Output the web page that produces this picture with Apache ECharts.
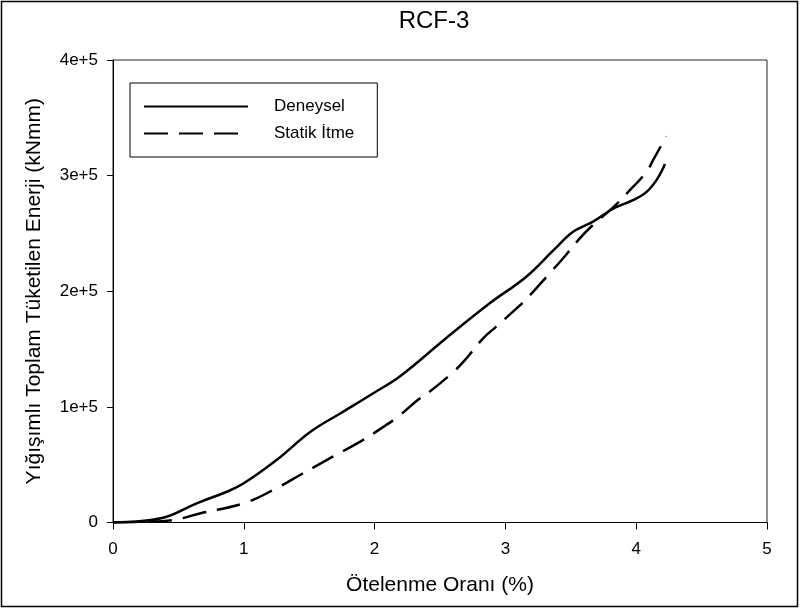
<!DOCTYPE html>
<html>
<head>
<meta charset="utf-8">
<script src="https://cdn.jsdelivr.net/npm/echarts@6/dist/echarts.min.js"></script>
<style>
  html, body { margin: 0; padding: 0; background: #fff; }
  #chart { width: 800px; height: 610px; }
</style>
</head>
<body>
<div id="chart"></div>
<script>
// Cumulative dissipated energy vs. drift ratio, specimen RCF-3
const seriesNames = ['Deneysel', 'Statik İtme'];

// Experimental curve: drift ratio (%) and cumulative energy (kNmm)
const deneyselDrift = [0, 0.2, 0.41, 0.64, 0.87, 1.0, 1.25, 1.51, 1.74, 1.99, 2.2, 2.53, 2.88, 3.16, 3.37, 3.52, 3.67, 3.83, 3.98, 4.08, 4.16, 4.22];
const deneyselEnergy = [0, 1000, 5000, 16600, 26600, 33900, 54000, 78500, 94500, 111800, 127000, 157900, 189600, 212600, 235700, 251600, 260200, 271800, 279000, 286000, 297000, 310000];

// Static pushover curve
const statikDrift = [0, 0.2, 0.46, 0.67, 1.0, 1.25, 1.43, 1.68, 1.89, 2.07, 2.19, 2.33, 2.42, 2.59, 2.68, 2.83, 2.93, 3.10, 3.19, 3.35, 3.43, 3.57, 3.67, 3.83, 3.93, 4.08, 4.13, 4.23];
const statikEnergy = [0, 500, 2200, 8000, 16600, 29600, 41100, 56900, 69900, 82900, 92500, 106000, 113100, 129000, 139100, 159300, 169400, 186700, 196800, 217000, 227000, 245900, 257400, 273200, 284800, 303500, 313600, 334000];

const xTicks = [0, 1, 2, 3, 4, 5];
const yTicks = [0, 100000, 200000, 300000, 400000];

const FONT = '"Liberation Sans", Arial, sans-serif';

function pairs(xs, ys) {
  return xs.map((x, i) => [x, ys[i]]);
}

function yLabel(v) {
  if (v === 0) return '0';
  return (v / 100000) + 'e+5';
}

const chart = echarts.init(document.getElementById('chart'), null, { renderer: 'canvas' });

chart.setOption({
  backgroundColor: '#fff',
  animation: false,
  textStyle: { fontFamily: FONT, color: '#000' },
  title: {
    text: 'RCF-3',
    left: 434,
    top: 9,
    textAlign: 'center',
    padding: 0,
    textStyle: { fontFamily: FONT, fontSize: 24, fontWeight: 'normal', color: '#000' }
  },
  graphic: [{
    type: 'rect',
    shape: { x: 1.5, y: 1.5, width: 796, height: 605 },
    style: { fill: null, stroke: '#000', lineWidth: 1.5 },
    silent: true,
    z: 100
  }],
  legend: {
    orient: 'vertical',
    left: 130,
    top: 83,
    padding: [15, 23, 15, 13],
    itemGap: 10,
    itemWidth: 104,
    itemHeight: 14,
    borderColor: '#000',
    borderWidth: 1,
    data: seriesNames,
    itemStyle: { opacity: 0 },
    textStyle: { fontFamily: FONT, fontSize: 17, color: '#000', padding: [0, 0, 0, 21] }
  },
  grid: {
    left: 113,
    right: 33,
    top: 60,
    bottom: 87.5,
    show: true,
    borderColor: '#222',
    borderWidth: 1,
    backgroundColor: 'transparent'
  },
  xAxis: {
    type: 'value',
    min: xTicks[0],
    max: xTicks[xTicks.length - 1],
    interval: 1,
    name: 'Ötelenme Oranı (%)',
    nameLocation: 'middle',
    nameGap: 52,
    nameTextStyle: { fontFamily: FONT, fontSize: 21, color: '#000' },
    axisLine: { lineStyle: { color: '#000', width: 1 } },
    axisTick: { inside: false, length: 7, lineStyle: { color: '#000' } },
    axisLabel: { fontFamily: FONT, fontSize: 17, color: '#000', margin: 18 },
    splitLine: { show: false }
  },
  yAxis: {
    type: 'value',
    min: yTicks[0],
    max: yTicks[yTicks.length - 1],
    interval: 100000,
    name: 'Yığışımlı Toplam Tüketilen Enerji (kNmm)',
    nameLocation: 'middle',
    nameGap: 68,
    nameTextStyle: { fontFamily: FONT, fontSize: 21, color: '#000' },
    axisLine: { show: true, lineStyle: { color: '#000', width: 1 } },
    axisTick: { show: true, inside: false, length: 6, lineStyle: { color: '#000' } },
    axisLabel: { fontFamily: FONT, fontSize: 17, color: '#000', margin: 15, formatter: yLabel },
    splitLine: { show: false }
  },
  series: [
    {
      name: seriesNames[0],
      type: 'line',
      data: pairs(deneyselDrift, deneyselEnergy),
      smooth: 0.4,
      showSymbol: false,
      symbol: 'none',
      lineStyle: { color: '#000', width: 2.5, type: 'solid' },
      itemStyle: { color: '#000' }
    },
    {
      name: seriesNames[1],
      type: 'line',
      data: pairs(statikDrift, statikEnergy),
      smooth: 0.4,
      showSymbol: false,
      symbol: 'none',
      lineStyle: { color: '#000', width: 2.5, type: [24, 11] },
      itemStyle: { color: '#000' }
    }
  ]
});
</script>
</body>
</html>
